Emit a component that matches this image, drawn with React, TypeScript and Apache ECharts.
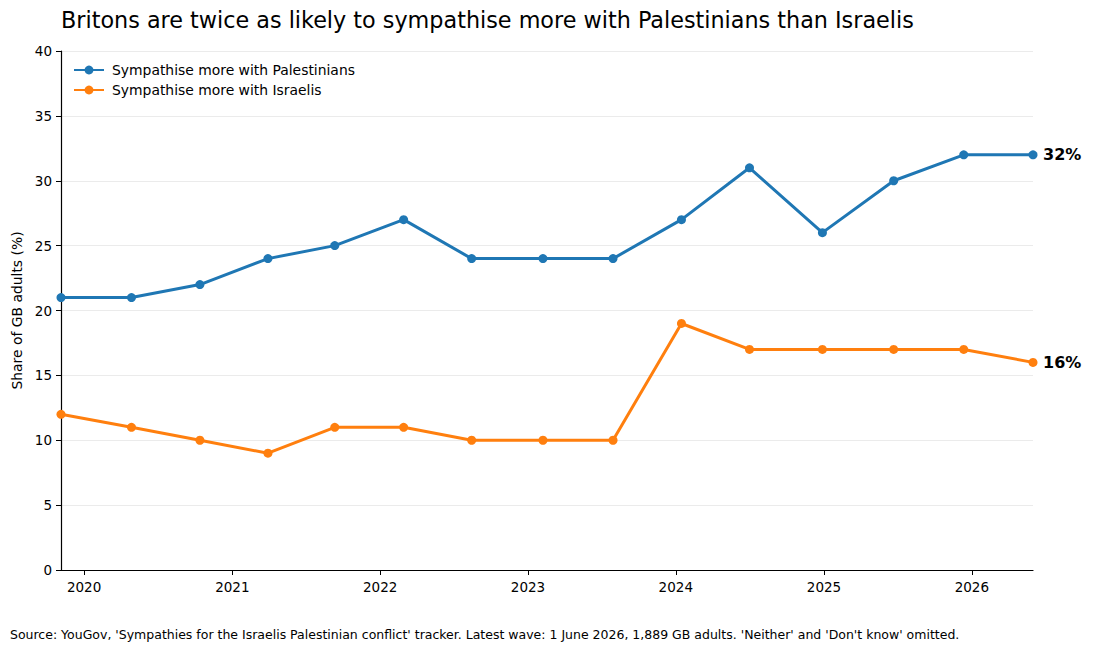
import React, { useEffect, useRef } from 'react';
import * as echarts from 'echarts';

const waveDates = [
  '2019-11-05', '2020-04-27', '2020-10-13', '2021-03-30', '2021-09-11',
  '2022-02-28', '2022-08-15', '2023-02-07', '2023-07-30', '2024-01-15',
  '2024-07-01', '2024-12-28', '2025-06-22', '2025-12-12', '2026-06-01',
];
const palestinians = [21, 21, 22, 24, 25, 27, 24, 24, 24, 27, 31, 26, 30, 32, 32];
const israelis = [12, 11, 10, 9, 11, 11, 10, 10, 10, 19, 17, 17, 17, 17, 16];

const font = '"DejaVu Sans", sans-serif';

const toSeries = (vals: number[]) => waveDates.map((d, i) => [d, vals[i]]);

const App: React.FC = () => {
  const chartRef = useRef<HTMLDivElement>(null);

  useEffect(() => {
    if (!chartRef.current) return undefined;
    const chart = echarts.init(chartRef.current, undefined, { renderer: 'svg' });

    const line = (name: string, color: string, vals: number[]) => ({
      name,
      type: 'line',
      data: toSeries(vals),
      symbol: 'circle',
      symbolSize: 9,
      color,
      lineStyle: { width: 3, color },
      itemStyle: { color },
      endLabel: {
        show: true,
        formatter: (p: any) => `${p.value[1]}%`,
        fontFamily: font,
        fontSize: 16,
        fontWeight: 'bold',
        color: '#000',
        distance: 10,
      },
    });

    chart.setOption({
      animation: false,
      textStyle: { fontFamily: font },
      title: {
        text: 'Britons are twice as likely to sympathise more with Palestinians than Israelis',
        left: 56,
        top: 4,
        textStyle: { fontFamily: font, fontSize: 22.3, fontWeight: 'normal', color: '#000' },
      },
      legend: {
        left: 68,
        top: 58,
        orient: 'vertical',
        itemWidth: 30,
        itemHeight: 11,
        itemGap: 6,
        textStyle: { fontFamily: font, fontSize: 13.9, color: '#000', padding: [0, 0, 0, 3] },
        data: ['Sympathise more with Palestinians', 'Sympathise more with Israelis'],
      },
      grid: { left: 61, right: 61, top: 51, bottom: 81, containLabel: false },
      xAxis: {
        type: 'time',
        min: '2019-11-05',
        max: '2026-06-01',
        splitNumber: 7,
        axisLine: { show: true, lineStyle: { color: '#000', width: 1.2 } },
        axisTick: { show: true, length: 5, lineStyle: { color: '#000' } },
        axisLabel: {
          formatter: '{yyyy}',
          fontFamily: font,
          fontSize: 13.5,
          color: '#000',
          margin: 10,
          hideOverlap: true,
        },
        splitLine: { show: false },
      },
      yAxis: {
        type: 'value',
        min: 0,
        max: 40,
        interval: 5,
        name: 'Share of GB adults (%)',
        nameLocation: 'middle',
        nameGap: 33,
        nameTextStyle: { fontFamily: font, fontSize: 13.9, color: '#000' },
        axisLine: { show: true, lineStyle: { color: '#000', width: 1.2 } },
        axisTick: { show: true, length: 5, lineStyle: { color: '#000' } },
        axisLabel: { fontFamily: font, fontSize: 13.5, color: '#000', margin: 9 },
        splitLine: { show: true, lineStyle: { color: '#ebebeb', width: 1 } },
      },
      graphic: [
        {
          type: 'text',
          left: 10,
          top: 628,
          style: {
            text: "Source: YouGov, 'Sympathies for the Israelis Palestinian conflict' tracker. Latest wave: 1 June 2026, 1,889 GB adults. 'Neither' and 'Don't know' omitted.",
            fontFamily: font,
            fontSize: 12.5,
            fill: '#000',
          },
        },
      ],
      series: [
        line('Sympathise more with Palestinians', '#1f77b4', palestinians),
        line('Sympathise more with Israelis', '#ff7f0e', israelis),
      ],
    });

    return () => {
      chart.dispose();
    };
  }, []);

  return (
    <div
      ref={chartRef}
      style={{ position: 'fixed', left: 0, top: 0, width: '1094px', height: '651px', background: '#fff' }}
    />
  );
};

export default App;
